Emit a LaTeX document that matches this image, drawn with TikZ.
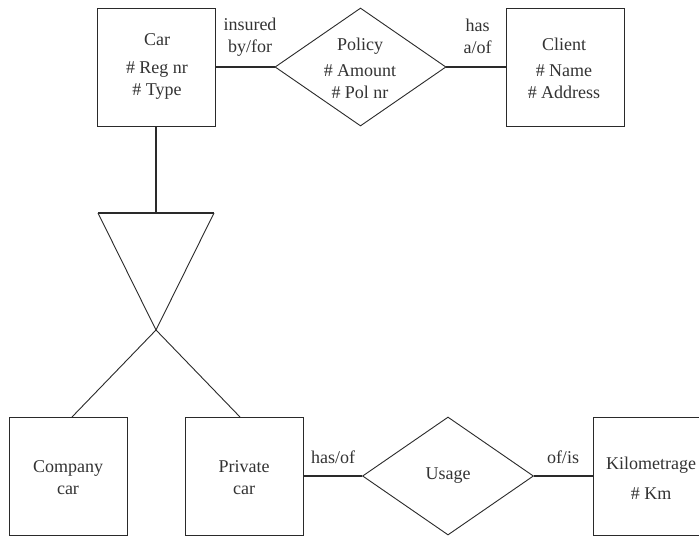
\documentclass[tikz,border=0pt]{standalone}
\usepackage{fontspec}
\setmainfont{Liberation Serif}
\usetikzlibrary{shapes.geometric}
\definecolor{ink}{HTML}{2A2A2A}
\definecolor{txt}{HTML}{333333}
\begin{document}
\begin{tikzpicture}[x=1pt,y=-1pt,
  entity/.style={draw=ink,line width=1pt,minimum width=118pt,minimum height=118pt,inner sep=0pt},
  relation/.style={draw=ink,line width=0.9pt,diamond,minimum width=171pt,minimum height=118pt,inner sep=0pt},
  lbl/.style={text=txt,font=\fontsize{18}{22}\selectfont,align=center,inner sep=0pt},
  conn/.style={draw=ink,line width=1.1pt},
  isa/.style={draw=ink,line width=0.9pt}]
\useasboundingbox[fill=white] (0,0) rectangle (699,536);
% entities
\node[entity] (car) at (156,67) {};
\node[entity] (client) at (565,67) {};
\node[entity] (company) at (68,476) {};
\node[entity] (private) at (244,476) {};
\node[entity] (km) at (652,476) {};
% relationships
\node[relation] (policy) at (360.5,67) {};
\node[relation] (usage) at (448,476) {};
% texts
\node[lbl] (cartxt) at (157,66.5) {Car\\[6pt]\# Reg nr\\\# Type};
\node[lbl] (clienttxt) at (564,68) {Client\\[4pt]\# Name\\\# Address};
\node[lbl] (policytxt) at (360,68) {Policy\\[4pt]\# Amount\\\# Pol nr};
\node[lbl] (companytxt) at (68,478) {Company\\car};
\node[lbl] (privatetxt) at (244,478) {Private\\car};
\node[lbl] (kmtxt) at (651,478) {Kilometrage\\[8pt]\# Km};
\node[lbl] (usagetxt) at (448,476) {Usage};
% connector labels
\node[lbl] (l1) at (250,37) {insured\\by/for};
\node[lbl] (l2) at (477.5,36.5) {has\\a/of};
\node[lbl] (l3) at (333,457) {has/of};
\node[lbl] (l4) at (563,457) {of/is};
% connectors
\draw[conn] (car.east) -- (policy.west);
\draw[conn] (policy.east) -- (client.west);
\draw[conn] (private.east) -- (usage.west);
\draw[conn] (usage.east) -- (km.west);
% ISA
\coordinate (isaL) at (98,213);
\coordinate (isaR) at (214,213);
\coordinate (isaT) at (156,213);
\coordinate (apex) at (156,330);
\coordinate (cc) at (72,417);
\coordinate (pc) at (240,417);
\draw[conn] (car.south) -- (isaT);
\draw[conn] (isaL) -- (isaR);
\draw[isa] (isaL) -- (apex) -- (isaR);
\draw[isa] (cc) -- (apex) -- (pc);
\end{tikzpicture}
\end{document}
